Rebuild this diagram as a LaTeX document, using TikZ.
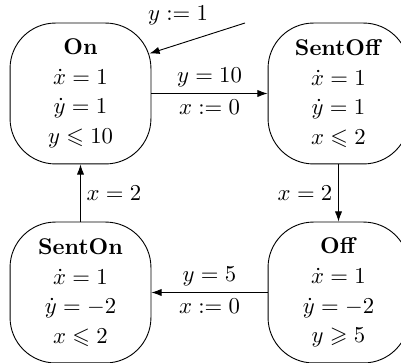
\documentclass[tikz,border=0pt]{standalone}
\usepackage{amsmath,amssymb}
\usetikzlibrary{arrows.meta}
\begin{document}
\begin{tikzpicture}[x=0.44pt,y=-0.44pt,
  state/.style={draw, rounded corners=20pt, minimum width=62pt, minimum height=62pt, align=center, inner sep=0pt},
  trans/.style={-{Latex[length=4.5pt,width=3.2pt]}},
  lbl/.style={inner sep=2.5pt}]
\useasboundingbox (0,0) rectangle (401,363);
\node[state] (on) at (80.5,93.5) {\textbf{On}\\[1pt] $\dot x=1$\\[1pt] $\dot y=1$\\[1pt] $y\leqslant 10$};
\node[state] (sentoff) at (338.5,93.5) {\textbf{SentOff}\\[1pt] $\dot x=1$\\[1pt] $\dot y=1$\\[1pt] $x\leqslant 2$};
\node[state] (senton) at (80.5,292.5) {\textbf{SentOn}\\[1pt] $\dot x=1$\\[1pt] $\dot y=-2$\\[1pt] $x\leqslant 2$};
\node[state] (off) at (338.5,292.5) {\textbf{Off}\\[1pt] $\dot x=1$\\[1pt] $\dot y=-2$\\[1pt] $y\geqslant 5$};
\coordinate (init) at (245,23);
\draw[trans] (init) -- ([shift={(-2,31)}]on.north east);
\node[lbl] (initlbl) at (178,15) {$y:=1$};
\draw[trans] (on) -- node[lbl,above] {$y=10$} node[lbl,below] {$x:=0$} (sentoff);
\draw[trans] (sentoff) -- node[lbl,left] {$x=2$} (off);
\draw[trans] (off) -- node[lbl,above] {$y=5$} node[lbl,below] {$x:=0$} (senton);
\draw[trans] (senton) -- node[lbl,right] {$x=2$} (on);
\end{tikzpicture}
\end{document}
